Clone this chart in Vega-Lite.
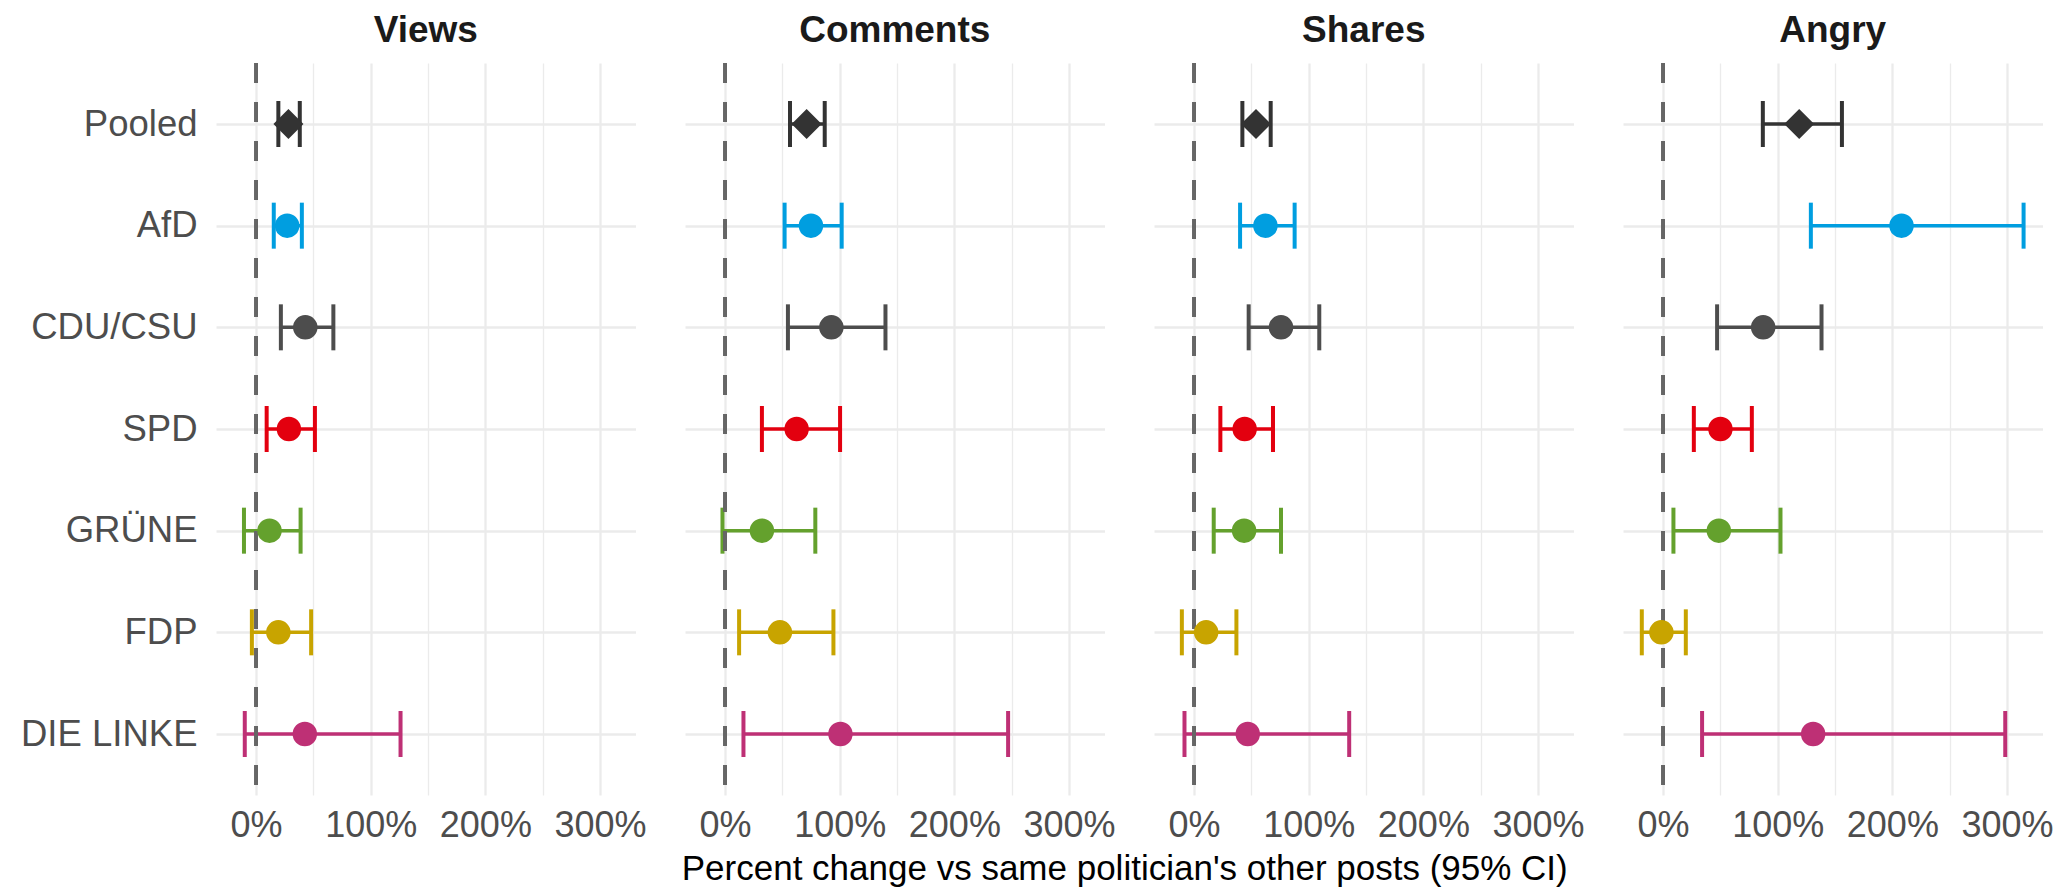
{
  "$schema": "https://vega.github.io/schema/vega-lite/v6.json",
  "background": "white",
  "padding": {"left": 20, "top": 12, "right": 0, "bottom": 0},
  "title": {
    "text": "Percent change vs same politician's other posts (95% CI)",
    "orient": "bottom",
    "anchor": "middle",
    "frame": "bounds",
    "dx": 88,
    "fontSize": 35,
    "fontWeight": "normal",
    "font": "Liberation Sans",
    "color": "#000000",
    "offset": 9
  },
  "data": {
    "values": [
      {"metric": "Views", "party": "Pooled", "est": 28.2, "lo": 19.4, "hi": 38.1},
      {"metric": "Views", "party": "AfD", "est": 27.1, "lo": 15.4, "hi": 39.9},
      {"metric": "Views", "party": "CDU/CSU", "est": 42.9, "lo": 21.6, "hi": 67.4},
      {"metric": "Views", "party": "SPD", "est": 28.6, "lo": 9.2, "hi": 51.3},
      {"metric": "Views", "party": "GRÜNE", "est": 11.7, "lo": -10.6, "hi": 38.8},
      {"metric": "Views", "party": "FDP", "est": 19.4, "lo": -3.7, "hi": 48.0},
      {"metric": "Views", "party": "DIE LINKE", "est": 42.5, "lo": -9.9, "hi": 126.0},
      {"metric": "Comments", "party": "Pooled", "est": 71.1, "lo": 56.6, "hi": 86.9},
      {"metric": "Comments", "party": "AfD", "est": 74.9, "lo": 51.9, "hi": 101.7},
      {"metric": "Comments", "party": "CDU/CSU", "est": 92.7, "lo": 54.8, "hi": 139.9},
      {"metric": "Comments", "party": "SPD", "est": 62.4, "lo": 32.1, "hi": 100.3},
      {"metric": "Comments", "party": "GRÜNE", "est": 32.1, "lo": -2.3, "hi": 78.7},
      {"metric": "Comments", "party": "FDP", "est": 47.8, "lo": 12.2, "hi": 94.5},
      {"metric": "Comments", "party": "DIE LINKE", "est": 100.6, "lo": 16.0, "hi": 246.9},
      {"metric": "Shares", "party": "Pooled", "est": 54.0, "lo": 42.1, "hi": 66.8},
      {"metric": "Shares", "party": "AfD", "est": 62.2, "lo": 40.1, "hi": 87.7},
      {"metric": "Shares", "party": "CDU/CSU", "est": 75.8, "lo": 47.6, "hi": 109.2},
      {"metric": "Shares", "party": "SPD", "est": 44.1, "lo": 22.9, "hi": 68.8},
      {"metric": "Shares", "party": "GRÜNE", "est": 43.6, "lo": 17.1, "hi": 75.8},
      {"metric": "Shares", "party": "FDP", "est": 10.5, "lo": -10.7, "hi": 36.9},
      {"metric": "Shares", "party": "DIE LINKE", "est": 46.8, "lo": -8.4, "hi": 135.3},
      {"metric": "Angry", "party": "Pooled", "est": 118.7, "lo": 87.0, "hi": 156.0},
      {"metric": "Angry", "party": "AfD", "est": 208.0, "lo": 128.9, "hi": 314.5},
      {"metric": "Angry", "party": "CDU/CSU", "est": 87.3, "lo": 47.1, "hi": 138.2},
      {"metric": "Angry", "party": "SPD", "est": 50.0, "lo": 26.8, "hi": 77.4},
      {"metric": "Angry", "party": "GRÜNE", "est": 48.6, "lo": 9.0, "hi": 102.4},
      {"metric": "Angry", "party": "FDP", "est": -1.5, "lo": -18.6, "hi": 19.8},
      {"metric": "Angry", "party": "DIE LINKE", "est": 130.9, "lo": 34.0, "hi": 298.5}
    ]
  },
  "facet": {
    "column": {
      "field": "metric",
      "type": "nominal",
      "sort": ["Views", "Comments", "Shares", "Angry"],
      "title": null,
      "header": {
        "labelFontSize": 37,
        "labelFontWeight": "bold",
        "labelFont": "Liberation Sans",
        "labelColor": "#1A1A1A",
        "labelPadding": 11
      }
    }
  },
  "spacing": 49,
  "spec": {
    "width": 419.5,
    "height": 732,
    "encoding": {
      "y": {
        "field": "party",
        "type": "nominal",
        "sort": ["Pooled", "AfD", "CDU/CSU", "SPD", "GRÜNE", "FDP", "DIE LINKE"],
        "scale": {"type": "point", "padding": 0.6},
        "axis": {
          "title": null,
          "domain": false,
          "ticks": false,
          "tickSize": 0,
          "labelFontSize": 36.5,
          "labelFont": "Liberation Sans",
          "labelColor": "#4D4D4D",
          "labelPadding": 19,
          "grid": true,
          "gridColor": "#EBEBEB",
          "gridWidth": 2.5
        }
      },
      "color": {
        "field": "party",
        "type": "nominal",
        "scale": {
          "domain": ["Pooled", "AfD", "CDU/CSU", "SPD", "GRÜNE", "FDP", "DIE LINKE"],
          "range": ["#333333", "#009EE0", "#4D4D4D", "#E3000F", "#64A12D", "#C8A400", "#BE3075"]
        },
        "legend": null
      }
    },
    "layer": [
      {
        "mark": {"type": "rule", "strokeWidth": 3.5, "opacity": 1},
        "encoding": {
          "x": {
            "field": "lo",
            "type": "quantitative",
            "scale": {"domain": [-35, 331], "nice": false, "zero": false},
            "axis": {
              "title": null,
              "values": [0, 50, 100, 150, 200, 250, 300],
              "labelExpr": "datum.value % 100 === 0 ? datum.value + '%' : ''",
              "labelOverlap": false,
              "domain": false,
              "ticks": false,
              "tickSize": 0,
              "labelFontSize": 36,
              "labelFont": "Liberation Sans",
              "labelColor": "#4D4D4D",
              "labelPadding": 11,
              "grid": true,
              "gridColor": "#EBEBEB",
              "gridWidth": {"condition": {"test": "datum.value % 100 === 0", "value": 2.3}, "value": 1.3}
            }
          },
          "x2": {"field": "hi"}
        }
      },
      {
        "mark": {"type": "tick", "thickness": 4, "size": 46, "orient": "vertical", "opacity": 1},
        "encoding": {"x": {"field": "lo", "type": "quantitative"}}
      },
      {
        "mark": {"type": "tick", "thickness": 4, "size": 46, "orient": "vertical", "opacity": 1},
        "encoding": {"x": {"field": "hi", "type": "quantitative"}}
      },
      {
        "mark": {"type": "rule", "color": "#666666", "strokeWidth": 3, "strokeDash": [20, 19]},
        "encoding": {"x": {"datum": 0}, "y": {"value": 0}, "y2": {"value": 732}, "color": {"value": "#666666"}}
      },
      {
        "transform": [{"filter": "datum.party !== 'Pooled'"}],
        "mark": {"type": "point", "shape": "circle", "filled": true, "opacity": 1, "size": 600},
        "encoding": {"x": {"field": "est", "type": "quantitative"}}
      },
      {
        "transform": [{"filter": "datum.party === 'Pooled'"}],
        "mark": {"type": "point", "shape": "diamond", "filled": true, "opacity": 1, "size": 900},
        "encoding": {"x": {"field": "est", "type": "quantitative"}}
      }
    ]
  },
  "config": {
    "view": {"stroke": null},
    "font": "Liberation Sans"
  }
}
